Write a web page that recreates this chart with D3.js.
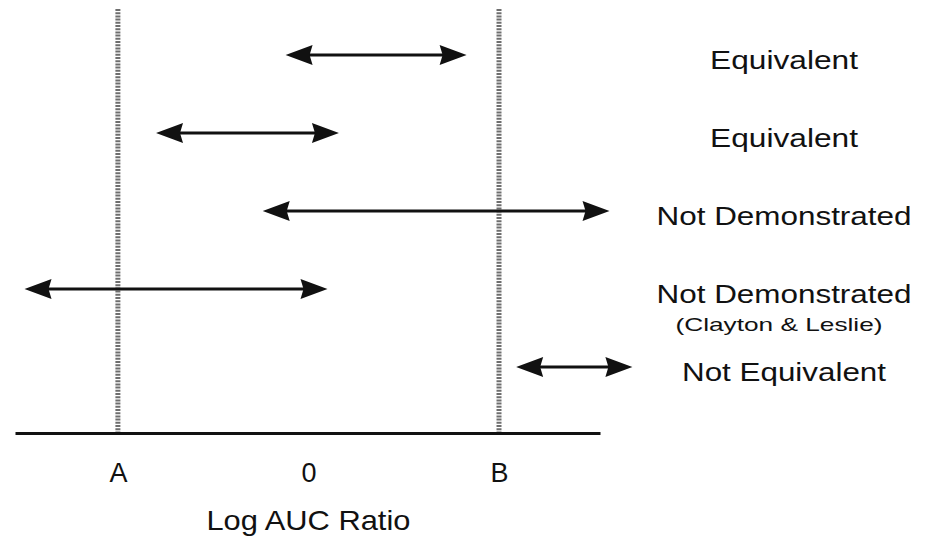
<!DOCTYPE html>
<html>
<head>
<meta charset="utf-8">
<script src="https://cdn.jsdelivr.net/npm/d3@7"></script>
<style>
  body { margin: 0; background: #fff; }
  text { font-family: "Liberation Sans", Arial, Helvetica, sans-serif; fill: #111; }
</style>
</head>
<body>
<svg id="auc" width="928" height="538"></svg>
<script>
// confidence intervals on the log AUC ratio scale (A = -1, 0, B = +1)
var outcomes = ["Equivalent", "Equivalent", "Not Demonstrated", "Not Demonstrated", "Not Equivalent"];
var notes = ["", "", "", "(Clayton & Leslie)", ""];
var lower = [-0.12, -0.80, -0.24, -1.49, 1.09];
var upper = [0.83, 0.16, 1.58, 0.10, 1.70];
var limits = [-1, 1];
var tickValues = [-1, 0, 1];
var tickLabels = ["A", "0", "B"];
var axisExtent = [-1.54, 1.53];

var svg = d3.select("#auc"),
  margin = { top: 55, left: 15, right: 328, bottom: 105 },
  axisY = 433;

var x = d3.scaleLinear().domain(axisExtent).range([margin.left, 928 - margin.right]);
var y = d3.scalePoint().domain(d3.range(outcomes.length)).range([margin.top, 538 - margin.bottom - 66]);

// equivalence limits
svg.selectAll(".limit")
  .data(limits)
  .enter().append("line")
  .attr("class", "limit")
  .attr("x1", function (d) { return x(d); })
  .attr("x2", function (d) { return x(d); })
  .attr("y1", 9)
  .attr("y2", axisY)
  .attr("stroke", "#6e6e6e")
  .attr("stroke-width", 5)
  .attr("stroke-dasharray", "2,1.2");

// x axis
var axis = svg.append("g")
  .attr("transform", "translate(0," + axisY + ")")
  .call(d3.axisBottom(x)
    .tickValues(tickValues)
    .tickFormat(function (d, i) { return tickLabels[i]; })
    .tickSize(0)
    .tickPadding(30));
axis.select(".domain").attr("stroke", "#111").attr("stroke-width", 3);
axis.selectAll("text").attr("font-size", 27).attr("font-family", "Liberation Sans, Arial, sans-serif").attr("fill", "#111");

svg.append("text")
  .attr("x", x(0))
  .attr("y", 530)
  .attr("text-anchor", "middle")
  .attr("font-size", 28)
  .attr("textLength", 204)
  .attr("lengthAdjust", "spacingAndGlyphs")
  .text("Log AUC Ratio");

// interval arrows
var rows = svg.selectAll(".row")
  .data(d3.range(outcomes.length))
  .enter().append("g")
  .attr("class", "row");

var headLen = 27, headHalf = 10;

rows.append("line")
  .attr("x1", function (i) { return x(lower[i]) + headLen - 4; })
  .attr("x2", function (i) { return x(upper[i]) - headLen + 4; })
  .attr("y1", function (i) { return y(i); })
  .attr("y2", function (i) { return y(i); })
  .attr("stroke", "#111")
  .attr("stroke-width", 3);

rows.append("path")
  .attr("fill", "#111")
  .attr("d", function (i) {
    var x0 = x(lower[i]), yy = y(i);
    return "M" + x0 + "," + yy +
      "L" + (x0 + headLen) + "," + (yy - headHalf) +
      "L" + (x0 + headLen - 3) + "," + yy +
      "L" + (x0 + headLen) + "," + (yy + headHalf) + "Z";
  });

rows.append("path")
  .attr("fill", "#111")
  .attr("d", function (i) {
    var x1 = x(upper[i]), yy = y(i);
    return "M" + x1 + "," + yy +
      "L" + (x1 - headLen) + "," + (yy - headHalf) +
      "L" + (x1 - headLen + 3) + "," + yy +
      "L" + (x1 - headLen) + "," + (yy + headHalf) + "Z";
  });

// outcome labels, stretched to the width of the scanned original
var labelX = 784;
rows.append("text")
  .attr("x", labelX)
  .attr("y", function (i) { return y(i) + 14; })
  .attr("text-anchor", "middle")
  .attr("font-size", 26)
  .attr("textLength", function (i) { return outcomes[i] === "Equivalent" ? 148 : outcomes[i] === "Not Equivalent" ? 204 : 255; })
  .attr("lengthAdjust", "spacingAndGlyphs")
  .text(function (i) { return outcomes[i]; });

rows.filter(function (i) { return notes[i] !== ""; })
  .append("text")
  .attr("x", labelX - 5)
  .attr("y", function (i) { return y(i) + 42; })
  .attr("text-anchor", "middle")
  .attr("font-size", 19)
  .attr("textLength", 207)
  .attr("lengthAdjust", "spacingAndGlyphs")
  .text(function (i) { return notes[i]; });
</script>
</body>
</html>
